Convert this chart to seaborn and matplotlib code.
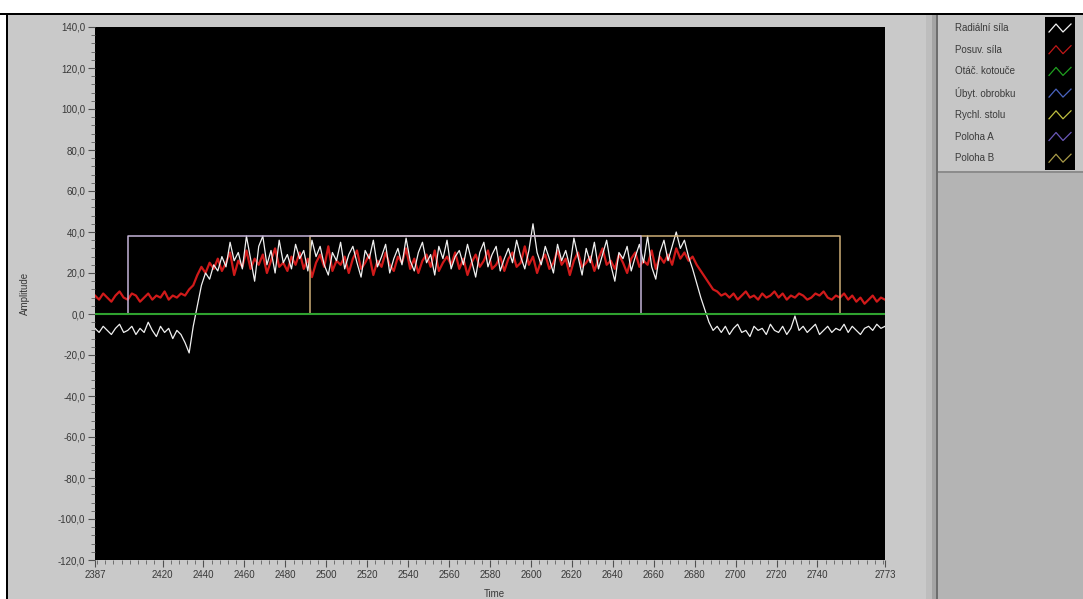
import numpy as np
import pandas as pd
import matplotlib
matplotlib.use("Agg")
import matplotlib.pyplot as plt
import seaborn as sns
from matplotlib.patches import Rectangle
from matplotlib.ticker import MultipleLocator, FixedLocator

# ---------------- data ----------------
t_start, t_end, t_step = 2387, 2773, 2
time = np.arange(t_start, t_end + 1, t_step)

radialni_sila = [
    -7, -9, -6, -8, -10, -7, -5, -9, -8, -6, -10, -7, -9, -4, -8, -11, -6, -9, -7, -12, -8, -10,
    -14, -19, -6, 4, 14, 20, 17, 24, 21,
    28, 23, 35, 26, 30, 22, 38, 27, 16, 33,
    38, 24, 31, 20, 36, 25, 29, 22, 34, 27,
    31, 21, 36, 28, 33, 24, 19, 30, 26, 35,
    22, 29, 33, 25, 18, 31, 27, 36, 23, 28,
    34, 20, 27, 32, 24, 37, 26, 21, 30, 35,
    25, 29, 19, 33, 27, 36, 22, 28, 31, 24,
    34, 26, 18, 30, 35, 23, 29, 33, 21, 27,
    32, 25, 36, 28, 22, 31, 44, 30, 24, 33,
    27, 20, 34, 26, 31, 23, 37, 28, 19, 32,
    25, 35, 22, 29, 36, 24, 16, 30, 27, 33,
    21, 28, 34, 25, 38, 23, 17, 30, 36, 26,
    33, 40,
    32, 36, 28, 22, 15, 8, 2, -4, -8, -6,
    -9, -6, -10, -7, -5, -9, -8, -11, -6, -8,
    -7, -10, -5, -8, -9, -6, -10, -7, -1, -8,
    -6, -9, -7, -5, -10, -8, -6, -9, -7, -8,
    -5, -9, -6, -8, -10, -7, -6, -8, -5, -7, -6,
]

posuv_sila = [
    9, 7, 10, 8, 6, 9, 11, 8, 7, 10, 9, 6, 8, 10, 7, 9, 8, 11, 7, 9, 8, 10, 9, 12,
    14, 19, 23, 20, 25, 22,
    27, 21, 25, 30, 19, 26, 23, 31, 22, 27,
    24, 29, 20, 26, 32, 23, 25, 21, 28, 24,
    30, 22, 27, 18, 25, 29, 23, 33, 21, 26,
    24, 28, 20, 27, 31, 22, 25, 29, 19, 26,
    23, 30, 24, 21, 28, 25, 32, 22, 27, 20,
    26, 29, 23, 31, 21, 25, 28, 24, 30, 22,
    27, 19, 25, 29, 23, 26, 31, 22, 24, 28,
    21, 27, 30, 23, 25, 33, 24, 28, 20, 26,
    29, 22, 25, 31, 24, 27, 19, 26, 30, 23,
    25, 28, 21, 27, 32, 24, 26, 22, 29, 25,
    20, 27, 30, 23, 26, 24, 31, 22, 28, 25,
    29, 24, 32, 27, 30, 26, 28,
    24, 21, 18, 15, 12, 11, 9, 10,
    8, 10, 7, 9, 11, 8, 9, 7, 10, 8,
    9, 11, 8, 10, 7, 9, 8, 10, 9, 7,
    8, 10, 9, 11, 8, 7, 9, 8, 10, 7,
    9, 6, 8, 5, 7, 9, 6, 8, 7,
]

# step signals (time of change, value from that time on)
flat_time = [2387, 2773]
otac_kotouce = [0, 0]
ubyt_obrobku = [0, 0]
rychl_stolu = [0, 0]
poloha_a_time = [2387, 2403, 2654, 2773]
poloha_a = [0, 38, 0, 0]
poloha_b_time = [2387, 2492, 2751, 2773]
poloha_b = [0, 38, 0, 0]

legend_names = ["Radiální síla", "Posuv. síla", "Otáč. kotouče", "Úbyt. obrobku",
                "Rychl. stolu", "Poloha A", "Poloha B"]
legend_colors = ["#f2f2f2", "#c01818", "#20a020", "#4a64c0", "#c0c040", "#6a58b8", "#a89a48"]

x_tick_values = [2387, 2420, 2440, 2460, 2480, 2500, 2520, 2540, 2560, 2580, 2600,
                 2620, 2640, 2660, 2680, 2700, 2720, 2740, 2773]
y_tick_values = [-120, -100, -80, -60, -40, -20, 0, 20, 40, 60, 80, 100, 120, 140]

df = pd.DataFrame({"Time": time, "rad": radialni_sila, "pos": posuv_sila})

# ---------------- figure ----------------
W, H = 1083, 599
fig = plt.figure(figsize=(W / 100, H / 100), dpi=100, facecolor="#c9c9c9")

# background / decoration axes in pixel coordinates
bg = fig.add_axes([0, 0, 1, 1], facecolor="none", zorder=-5)
bg.set_xlim(0, W)
bg.set_ylim(H, 0)
bg.axis("off")

def prect(x0, y0, x1, y1, color):
    bg.add_patch(Rectangle((x0, y0), x1 - x0, y1 - y0, color=color, lw=0))

prect(0, 0, W, 13, "white")
prect(0, 13, W, 15, "black")
prect(0, 15, 6, H, "white")
prect(6, 15, 8, H, "black")
prect(926, 15, 932, H, "#bdbdbd")
prect(932, 15, 936, H, "#a4a4a4")
prect(936, 15, 938, H, "#6e6e6e")
prect(938, 15, W, H, "#b4b4b4")
prect(938, 15, W, 172, "#c6c6c6")
prect(938, 171, W, 173, "#8c8c8c")
prect(1045, 17, 1075, 170, "black")

for i, (name, col) in enumerate(zip(legend_names, legend_colors)):
    yc = 28 + i * 21.7
    bg.text(955, yc, name, ha="left", va="center", family="Liberation Sans",
            size=7, color="#3a3a3a")
    zx = [1049, 1056, 1063, 1071]
    zy = [yc + 4, yc - 4, yc + 4, yc - 4]
    bg.plot(zx, zy, color=col, lw=0.9)

# main plot
ax = fig.add_axes([95 / W, 1 - 560 / H, 790 / W, 533 / H], zorder=1)
ax.set_facecolor("black")

sns.lineplot(data=df, x="Time", y="pos", ax=ax, color="#d01a1a", lw=1.6, zorder=3)
sns.lineplot(data=df, x="Time", y="rad", ax=ax, color="#f0f0f0", lw=0.9, zorder=4)
ax.plot(flat_time, ubyt_obrobku, color=legend_colors[3], lw=1.2, zorder=5)
ax.plot(flat_time, rychl_stolu, color=legend_colors[4], lw=1.2, zorder=5)
ax.plot(poloha_b_time, poloha_b, drawstyle="steps-post", color="#cdae78", lw=1.1, zorder=6)
ax.plot(poloha_a_time, poloha_a, drawstyle="steps-post", color="#c4b4d8", lw=1.1, zorder=7)
ax.plot(flat_time, otac_kotouce, color="#2fa22f", lw=1.5, zorder=8)

ax.set_xlim(2387, 2773)
ax.set_ylim(-120, 140)
for s in ax.spines.values():
    s.set_visible(False)

tick_font = dict(family="Liberation Sans", size=7)
ax.xaxis.set_major_locator(FixedLocator(x_tick_values))
ax.xaxis.set_minor_locator(MultipleLocator(4))
ax.yaxis.set_major_locator(FixedLocator(y_tick_values))
ax.yaxis.set_minor_locator(MultipleLocator(4))
ax.set_xticklabels([str(v) for v in x_tick_values], **tick_font, color="#383838")
ax.set_yticklabels([f"{v:.1f}".replace(".", ",") for v in y_tick_values], **tick_font, color="#383838")
ax.tick_params(axis="both", which="major", length=5, width=0.8, color="#505050", pad=2)
ax.tick_params(axis="both", which="minor", length=3, width=0.6, color="#606060")
ax.set_xlabel("Time", family="Liberation Sans", size=7, color="#383838", labelpad=1)
ax.xaxis.set_label_coords(0.505, -0.055)
ax.set_ylabel("Amplitude", family="Liberation Sans", size=7, color="#383838")
ax.yaxis.set_label_coords(-0.082, 0.5)
ax.grid(False)

fig.savefig("out.png", dpi=100, facecolor=fig.get_facecolor())
